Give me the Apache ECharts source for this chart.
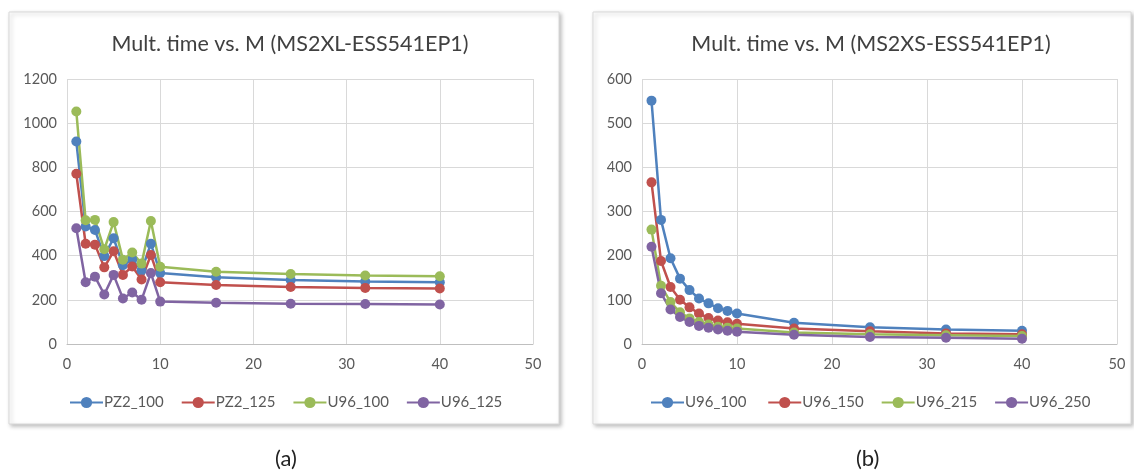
<!DOCTYPE html>
<html>
<head>
<meta charset="utf-8">
<script src="https://cdn.jsdelivr.net/npm/echarts@6/dist/echarts.min.js"></script>
<style>
  html, body { margin: 0; padding: 0; background: #fff; }
  #main { width: 1134px; height: 472px; }
</style>
</head>
<body>
<div id="main"></div>
<script>
// M values (shared by both charts)
var mValues = [1, 2, 3, 4, 5, 6, 7, 8, 9, 10, 16, 24, 32, 40];

// chart (a): MS2XL-ESS541EP1
var pz2_100 = [917, 532, 516, 398, 479, 357, 383, 333, 454, 321, 302, 290, 283, 280];
var pz2_125 = [771, 454, 450, 347, 420, 313, 351, 292, 403, 280, 267, 258, 254, 251];
var u96_100a = [1053, 560, 562, 429, 552, 382, 414, 364, 557, 350, 327, 317, 310, 307];
var u96_125 = [524, 280, 305, 224, 313, 206, 233, 200, 321, 192, 187, 182, 181, 179];

// chart (b): MS2XS-ESS541EP1
var u96_100b = [551, 281, 194, 148, 122, 103, 92, 81, 75, 69, 48, 38, 33, 30];
var u96_150 = [366, 188, 129, 100, 83, 69, 59, 53, 49, 46, 35, 29, 24, 22];
var u96_215 = [259, 132, 95, 72, 58, 50, 44, 39, 37, 35, 26, 22, 20, 18];
var u96_250 = [220, 115, 78, 61, 50, 41, 37, 33, 30, 28, 21, 16, 14, 12];

var colors = ['#4F81BD', '#C0504D', '#9BBB59', '#8064A2'];
var font = 'Lato, "Liberation Sans", sans-serif';

function pairs(ys) {
  return mValues.map(function (x, i) { return [x, ys[i]]; });
}

function line(name, ys, axis, color) {
  return {
    name: name,
    type: 'line',
    xAxisIndex: axis,
    yAxisIndex: axis,
    data: pairs(ys),
    symbol: 'circle',
    symbolSize: 10,
    color: color,
    lineStyle: { width: 2.5, color: color },
    itemStyle: { color: color },
    z: 3
  };
}

function xAx(idx) {
  return {
    type: 'value', gridIndex: idx, min: 0, max: 50, interval: 10,
    axisLine: { show: true, lineStyle: { color: '#BFBFBF', width: 1 } },
    axisTick: { show: false },
    axisLabel: { color: '#595959', fontSize: 14.5, fontFamily: font, margin: 13 },
    splitLine: { show: true, lineStyle: { color: '#D9D9D9', width: 1 } }
  };
}

function yAx(idx, max, step) {
  return {
    type: 'value', gridIndex: idx, min: 0, max: max, interval: step,
    axisLine: { show: false },
    axisTick: { show: false },
    axisLabel: { color: '#595959', fontSize: 14.5, fontFamily: font, margin: 10,
                 formatter: function (v) { return String(v); } },
    splitLine: { show: true, lineStyle: { color: '#D9D9D9', width: 1 } }
  };
}

function legend(x, names) {
  return {
    left: x, top: 390,
    data: names,
    itemWidth: 33, itemHeight: 14, itemGap: 17,
    textStyle: { color: '#595959', fontSize: 15, fontFamily: font, padding: [0, 0, 0, -4] }
  };
}

var chart = echarts.init(document.getElementById('main'));
chart.setOption({
  animation: false,
  backgroundColor: '#fff',
  graphic: [
    { type: 'rect', shape: { x: 9, y: 12, width: 550, height: 412 },
      style: { fill: '#fff', stroke: '#D9D9D9', lineWidth: 1,
               shadowBlur: 4, shadowOffsetX: 2, shadowOffsetY: 2, shadowColor: 'rgba(0,0,0,0.25)' }, z: -10 },
    { type: 'rect', shape: { x: 593, y: 12, width: 538, height: 412 },
      style: { fill: '#fff', stroke: '#D9D9D9', lineWidth: 1,
               shadowBlur: 4, shadowOffsetX: 2, shadowOffsetY: 2, shadowColor: 'rgba(0,0,0,0.25)' }, z: -10 },
    { type: 'text', left: 275, top: 448,
      style: { text: '(a)', fontSize: 22, fontFamily: font, fill: '#222' } },
    { type: 'text', left: 856, top: 448,
      style: { text: '(b)', fontSize: 22, fontFamily: font, fill: '#222' } }
  ],
  title: [
    { text: 'Mult. time vs. M (MS2XL-ESS541EP1)', left: 285, top: 28, textAlign: 'center',
      textStyle: { color: '#404040', fontSize: 21.5, fontWeight: 'normal', fontFamily: font } },
    { text: 'Mult. time vs. M (MS2XS-ESS541EP1)', left: 866, top: 28, textAlign: 'center',
      textStyle: { color: '#404040', fontSize: 21.5, fontWeight: 'normal', fontFamily: font } }
  ],
  legend: [
    legend(64, ['PZ2_100', 'PZ2_125', 'U96_100', 'U96_125']),
    legend(645, ['U96_100 ', 'U96_150', 'U96_215', 'U96_250'])
  ],
  grid: [
    { left: 67, top: 79, width: 466, height: 265 },
    { left: 642, top: 79, width: 475, height: 265 }
  ],
  xAxis: [xAx(0), xAx(1)],
  yAxis: [yAx(0, 1200, 200), yAx(1, 600, 100)],
  series: [
    line('PZ2_100', pz2_100, 0, colors[0]),
    line('PZ2_125', pz2_125, 0, colors[1]),
    line('U96_100', u96_100a, 0, colors[2]),
    line('U96_125', u96_125, 0, colors[3]),
    line('U96_100 ', u96_100b, 1, colors[0]),
    line('U96_150', u96_150, 1, colors[1]),
    line('U96_215', u96_215, 1, colors[2]),
    line('U96_250', u96_250, 1, colors[3])
  ]
});
</script>
</body>
</html>
